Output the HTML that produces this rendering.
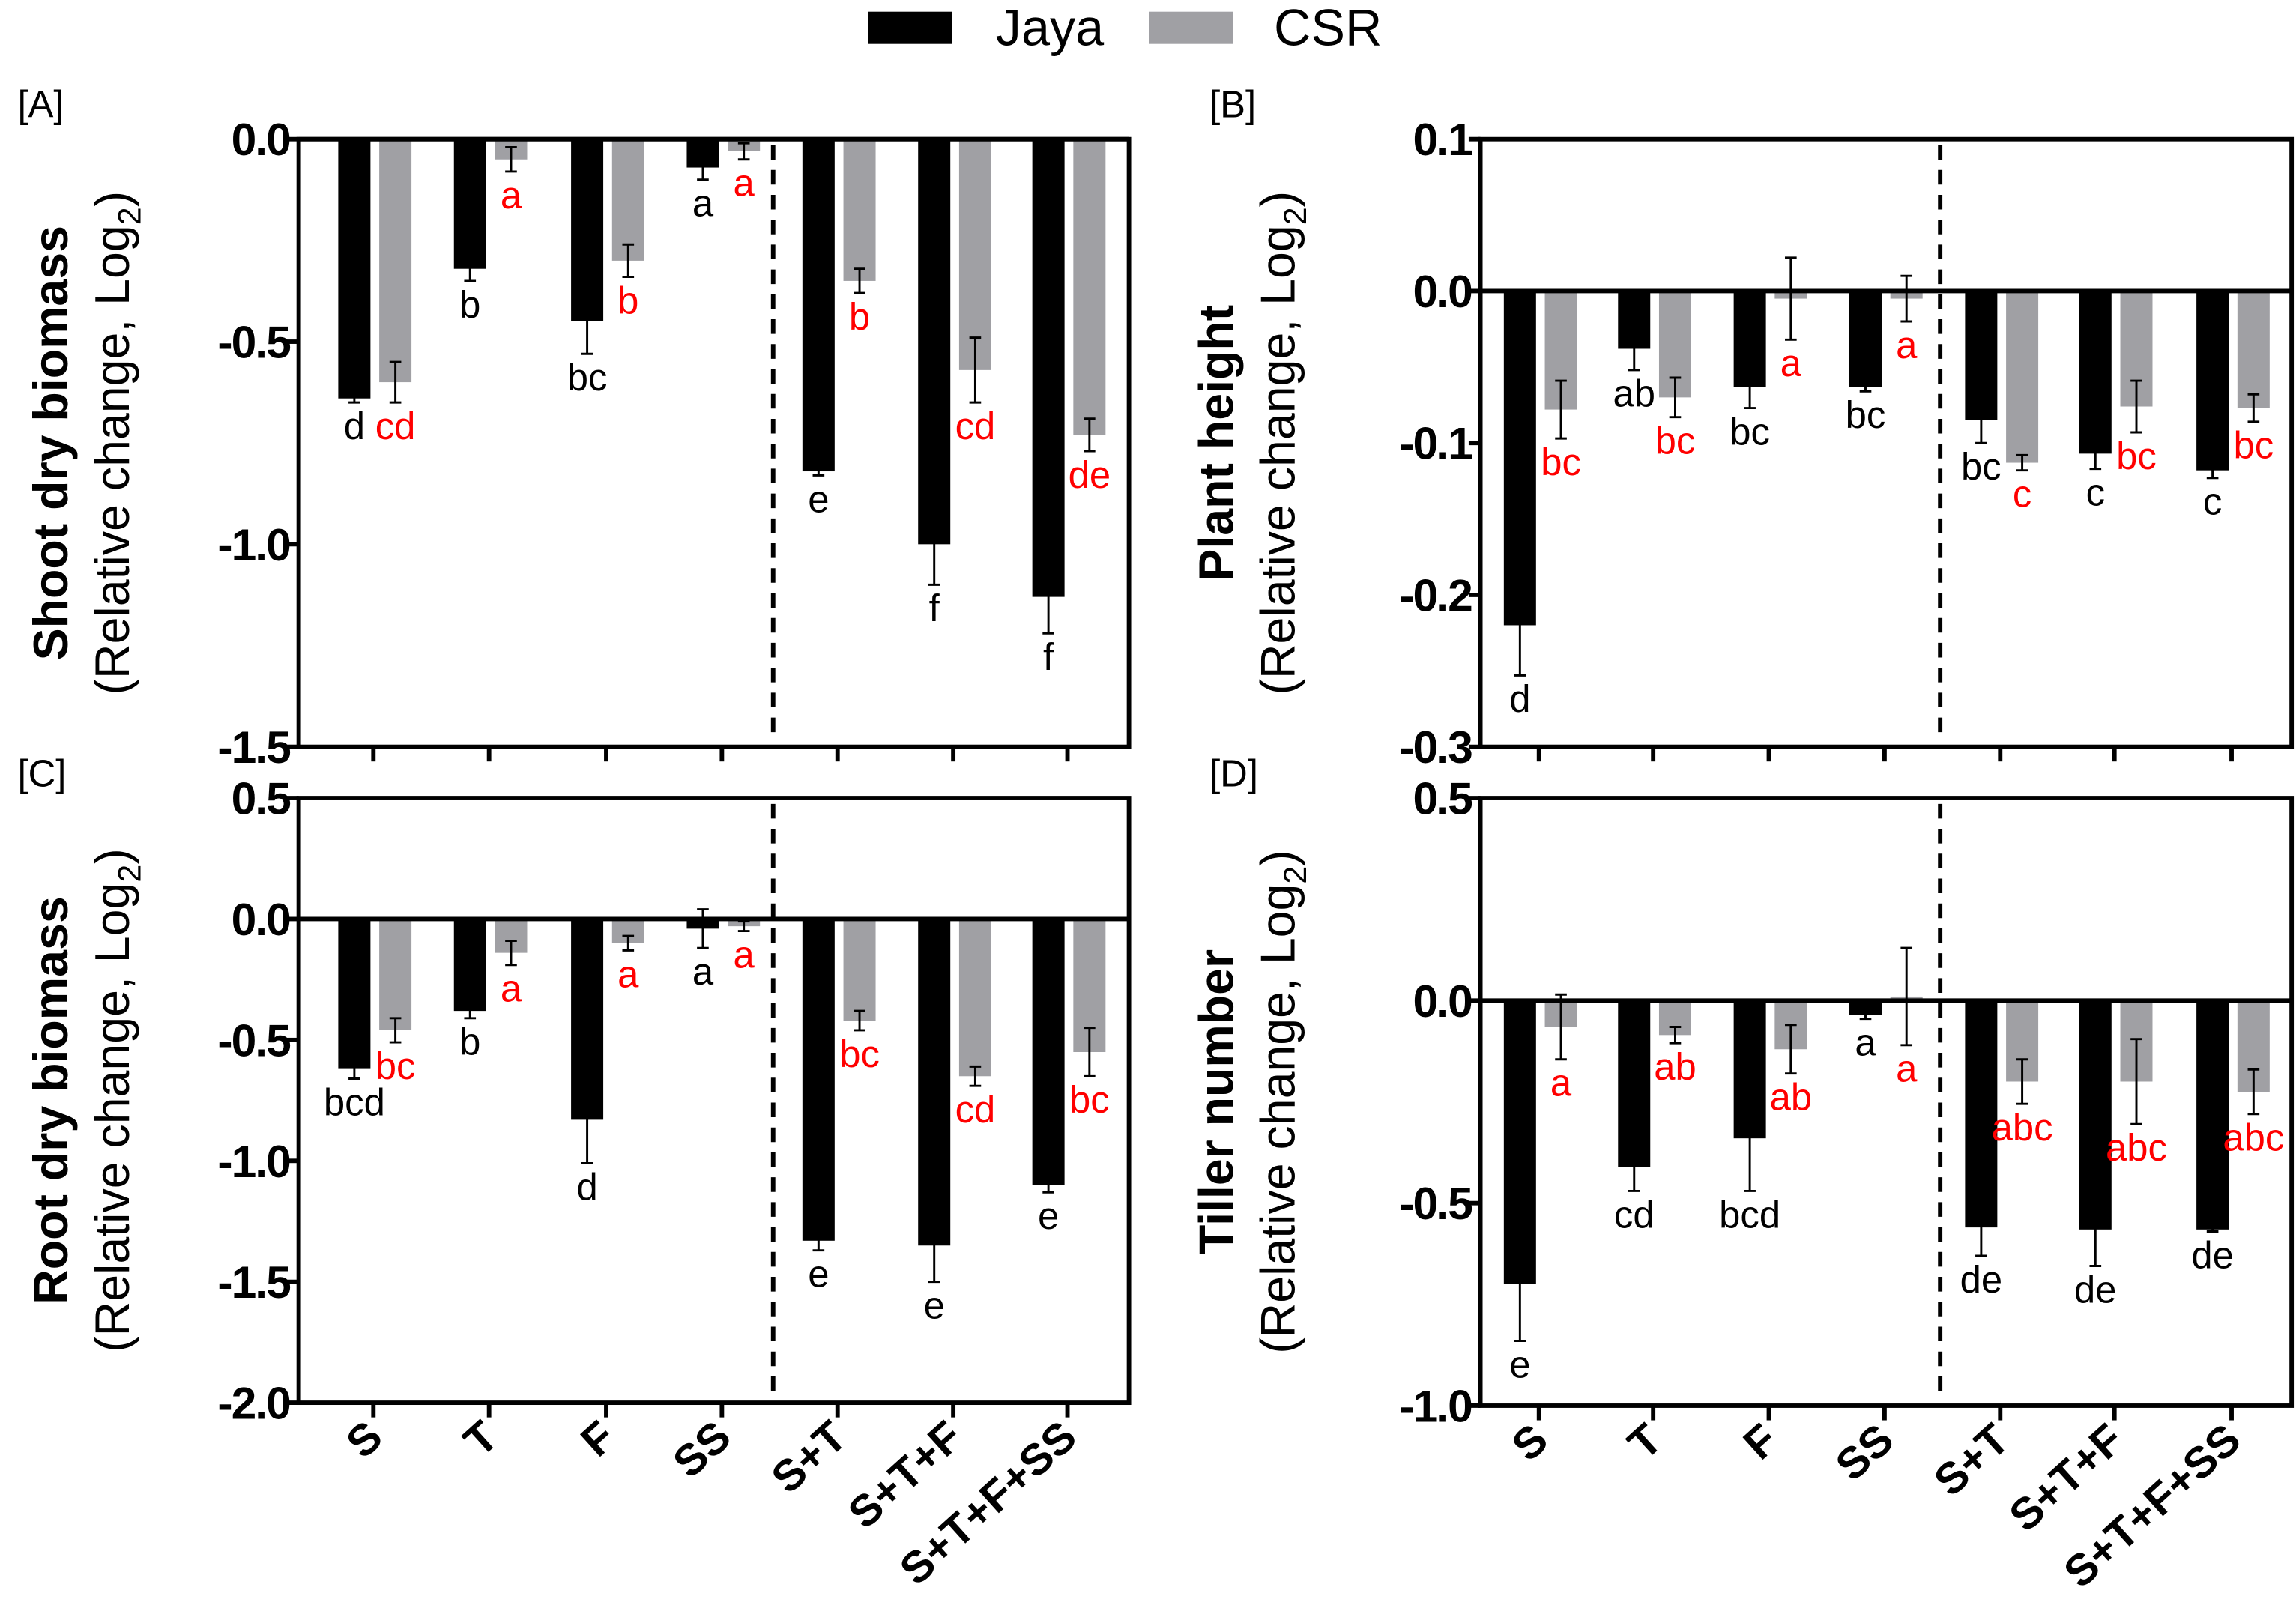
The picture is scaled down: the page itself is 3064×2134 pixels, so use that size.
<!DOCTYPE html>
<html><head><meta charset="utf-8"><style>
html,body{margin:0;padding:0;background:#fff;}
svg{display:block;font-family:"Liberation Sans",Arial,sans-serif;}
</style></head><body>
<svg id="fig" width="3064" height="2134" viewBox="0 0 1568 1092" xmlns="http://www.w3.org/2000/svg">
<g>
<rect x="593" y="8" width="57" height="22" fill="#000"/>
<text x="680" y="31" font-size="35">Jaya</text>
<rect x="785" y="8" width="57" height="22" fill="#a0a0a4"/>
<text x="870" y="31" font-size="35">CSR</text>
</g>
</svg>
<script>
const categories=["S","T","F","SS","S+T","S+T+F","S+T+F+SS"];
const jayaA=[-0.64,-0.32,-0.45,-0.07,-0.82,-1.0,-1.13];
const jayaAErr=[0.01,0.03,0.08,0.03,0.01,0.1,0.09];
const csrA=[-0.60,-0.05,-0.30,-0.03,-0.35,-0.57,-0.73];
const csrAErr=[0.05,0.03,0.04,0.02,0.03,0.08,0.04];
const jayaALetters=["d","b","bc","a","e","f","f"];
const csrALetters=["cd","a","b","a","b","cd","de"];
const ticksA=[0,-0.5,-1.0,-1.5];
const tickLabelsA=["0.0","-0.5","-1.0","-1.5"];

const jayaB=[-0.22,-0.038,-0.063,-0.063,-0.085,-0.107,-0.118];
const jayaBErr=[0.033,0.014,0.014,0.003,0.015,0.01,0.005];
const csrB=[-0.078,-0.07,-0.005,-0.005,-0.113,-0.076,-0.077];
const csrBErr=[0.019,0.013,0.027,0.015,0.005,0.017,0.009];
const jayaBLetters=["d","ab","bc","bc","bc","c","c"];
const csrBLetters=["bc","bc","a","a","c","bc","bc"];
const ticksB=[0.1,0,-0.1,-0.2,-0.3];
const tickLabelsB=["0.1","0.0","-0.1","-0.2","-0.3"];

const jayaC=[-0.62,-0.38,-0.83,-0.04,-1.33,-1.35,-1.10];
const jayaCErr=[0.04,0.03,0.18,0.08,0.04,0.15,0.03];
const csrC=[-0.46,-0.14,-0.10,-0.03,-0.42,-0.65,-0.55];
const csrCErr=[0.05,0.05,0.03,0.02,0.04,0.04,0.10];
const jayaCLetters=["bcd","b","d","a","e","e","e"];
const csrCLetters=["bc","a","a","a","bc","cd","bc"];
const ticksC=[0.5,0,-0.5,-1.0,-1.5,-2.0];
const tickLabelsC=["0.5","0.0","-0.5","-1.0","-1.5","-2.0"];

const jayaD=[-0.70,-0.41,-0.34,-0.035,-0.56,-0.565,-0.565];
const jayaDErr=[0.14,0.06,0.13,0.01,0.07,0.09,0.005];
const csrD=[-0.065,-0.085,-0.12,0.01,-0.20,-0.20,-0.225];
const csrDErr=[0.08,0.02,0.06,0.12,0.055,0.105,0.055];
const jayaDLetters=["e","cd","bcd","a","de","de","de"];
const csrDLetters=["a","ab","ab","a","abc","abc","abc"];
const ticksD=[0.5,0,-0.5,-1.0];
const tickLabelsD=["0.5","0.0","-0.5","-1.0"];

const NS="http://www.w3.org/2000/svg";
const svg=document.getElementById('fig');
function mk(tag,attrs,parent){const e=document.createElementNS(NS,tag);for(const k in attrs)e.setAttribute(k,attrs[k]);(parent||svg).appendChild(e);return e;}

function panel(cfg){
  const g=mk('g',{});
  
  
  const {x0,x1,yTop,yBot,vmax,vmin,tickX}=cfg;
  const y=v=>yTop+(vmax-v)/(vmax-vmin)*(yBot-yTop);
  const bw=22;
  for(let i=0;i<categories.length;i++){
    const series=[[cfg.jaya,cfg.jayaErr,cfg.jl,'#000','#000',tickX[i]-24,'jaya'],[cfg.csr,cfg.csrErr,cfg.cl,'#a0a0a4','#ff0000',tickX[i]+4,'csr']];
    for(const s of series){
      const v=s[0][i],e=s[1][i],bx=s[5];
      const r=mk('rect',{x:bx,y:Math.min(y(0),y(v)),width:bw,height:Math.abs(y(v)-y(0)),fill:s[3]},g);
      
      
      const cx=bx+bw/2;
      const eb=mk('path',{d:`M${cx},${y(v+e)}V${y(v-e)}M${cx-4},${y(v+e)}H${cx+4}M${cx-4},${y(v-e)}H${cx+4}`,stroke:'#000','stroke-width':1.5,fill:'none'},g);
      
      
      const t=mk('text',{x:cx,y:y(Math.min(v-e,0))+25,'font-size':26,'text-anchor':'middle',fill:s[4]},g);
      
      
      t.textContent=s[2][i];
    }
  }
  const d=mk('line',{x1:cfg.dash,x2:cfg.dash,y1:yTop+4,y2:yBot-6,stroke:'#000','stroke-width':3,'stroke-dasharray':'10,7'},g);
  
  
  const z=mk('line',{x1:x0,x2:x1,y1:y(0),y2:y(0),stroke:'#000','stroke-width':3},g);
  
  
  const f=mk('rect',{x:x0,y:yTop,width:x1-x0,height:yBot-yTop,fill:'none',stroke:'#000','stroke-width':3},g);
  
  
  cfg.ticks.forEach((tv,k)=>{
    mk('line',{x1:x0-8,x2:x0,y1:y(tv),y2:y(tv),stroke:'#000','stroke-width':3},g);
    const t=mk('text',{x:x0-6,y:y(tv)+11,'font-size':31,'font-weight':'bold','text-anchor':'end','letter-spacing':'-1'},g);
    
    
    t.textContent=cfg.tl[k];
  });
  tickX.forEach((tx,i)=>{
    mk('line',{x1:tx,x2:tx,y1:yBot,y2:yBot+10,stroke:'#000','stroke-width':3},g);
    if(cfg.xlabels){
      const t=mk('text',{x:tx+8,y:yBot+26,'font-size':30,'font-weight':'bold','text-anchor':'end',transform:`rotate(-42 ${tx+8} ${yBot+26})`},g);
      
      
      t.textContent=categories[i];
    }
  });
  const cy=(yTop+yBot)/2;
  const t1=mk('text',{x:cfg.tx1,y:cy,'font-size':33,'font-weight':'bold','text-anchor':'middle',transform:`rotate(-90 ${cfg.tx1} ${cy})`},g);
  
  
  t1.textContent=cfg.title;
  const t2=mk('text',{x:cfg.tx1+42,y:cy,'font-size':33,'text-anchor':'middle',transform:`rotate(-90 ${cfg.tx1+42} ${cy})`},g);
  
  
  t2.innerHTML='(Relative change, Log<tspan font-size="22" dy="8">2</tspan><tspan dy="-8">)</tspan>';
  const pl=mk('text',{x:cfg.plx,y:cfg.ply,'font-size':26},g);
  
  
  pl.textContent='['+cfg.id+']';
}
const tL=[255,334,414,493,572,651,729];
const tR=[1051,1129,1208,1287,1366,1444,1524];
panel({id:'A',x0:204,x1:771,yTop:95,yBot:510,vmax:0,vmin:-1.5,tickX:tL,dash:528,jaya:jayaA,jayaErr:jayaAErr,csr:csrA,csrErr:csrAErr,jl:jayaALetters,cl:csrALetters,ticks:ticksA,tl:tickLabelsA,title:'Shoot dry biomass',tx1:46,plx:12,ply:80,xlabels:false});
panel({id:'B',x0:1011,x1:1565,yTop:95,yBot:510,vmax:0.1,vmin:-0.3,tickX:tR,dash:1325,jaya:jayaB,jayaErr:jayaBErr,csr:csrB,csrErr:csrBErr,jl:jayaBLetters,cl:csrBLetters,ticks:ticksB,tl:tickLabelsB,title:'Plant height',tx1:842,plx:826,ply:80,xlabels:false});
panel({id:'C',x0:204,x1:771,yTop:545,yBot:958,vmax:0.5,vmin:-2.0,tickX:tL,dash:528,jaya:jayaC,jayaErr:jayaCErr,csr:csrC,csrErr:csrCErr,jl:jayaCLetters,cl:csrCLetters,ticks:ticksC,tl:tickLabelsC,title:'Root dry biomass',tx1:46,plx:12,ply:537,xlabels:true});
panel({id:'D',x0:1011,x1:1565,yTop:545,yBot:960,vmax:0.5,vmin:-1.0,tickX:tR,dash:1325,jaya:jayaD,jayaErr:jayaDErr,csr:csrD,csrErr:csrDErr,jl:jayaDLetters,cl:csrDLetters,ticks:ticksD,tl:tickLabelsD,title:'Tiller number',tx1:842,plx:826,ply:537,xlabels:true});
</script>
</body></html>
